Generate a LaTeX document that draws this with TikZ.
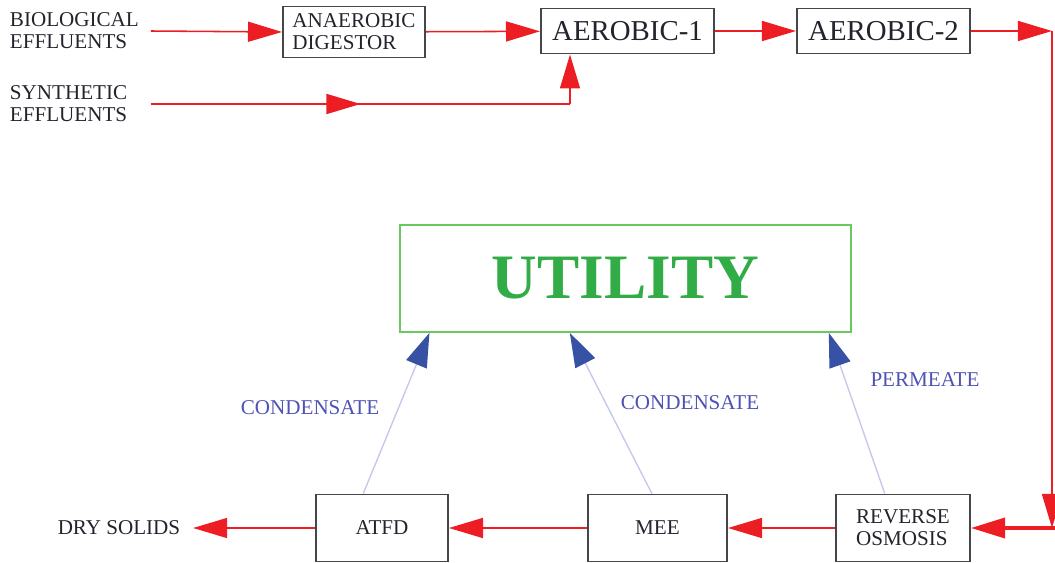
\documentclass[tikz,border=0pt]{standalone}
\usepackage{fontspec}
\setmainfont{Liberation Serif}
\usetikzlibrary{arrows.meta,calc}
\definecolor{flowred}{RGB}{236,30,36}
\definecolor{boxgray}{RGB}{70,70,70}
\definecolor{inkgray}{RGB}{35,35,45}
\definecolor{utgreen}{RGB}{50,172,70}
\definecolor{utborder}{RGB}{105,200,95}
\definecolor{bhead}{RGB}{55,82,165}
\definecolor{bline}{RGB}{200,200,236}
\definecolor{blabel}{RGB}{78,82,178}
\begin{document}
\begin{tikzpicture}[x=0.025cm, y=0.025cm,
  txt/.style={text=inkgray, font=\fontsize{15}{15.6}\selectfont, align=left},
  box/.style={txt, draw=boxgray, line width=1.4pt, fill=white, inner sep=2pt},
  big/.style={font=\fontsize{20.5}{22}\selectfont},
  redline/.style={draw=flowred, line width=1.1pt},
  flow/.style={redline, -{Triangle[length=0.85cm,width=0.5cm]}},
  cond/.style={draw=bline, line width=1pt, -{Triangle[length=0.85cm,width=0.55cm,color=bhead]}},
  lbl/.style={text=blabel, font=\fontsize{15}{17}\selectfont}]
  \useasboundingbox (0,0) rectangle (1055,562);

  % feed and biological stages
  \node[txt, anchor=west, text width=3.4cm] (bio) at (5,531) {BIOLOGICAL\\EFFLUENTS};
  \node[txt, anchor=west, text width=3.4cm] (synth) at (5,458) {SYNTHETIC\\EFFLUENTS};
  \node[box, minimum width=3.55cm, minimum height=1.275cm] (anaer) at (354,530) {ANAEROBIC\\DIGESTOR};
  \node[box, big, minimum width=4.325cm, minimum height=1.125cm] (aer1) at (627.5,531) {AEROBIC-1};
  \node[box, big, minimum width=4.325cm, minimum height=1.125cm] (aer2) at (883.5,531) {AEROBIC-2};

  % utility
  \node[draw=utborder, line width=1.2pt, minimum width=11.275cm, minimum height=2.675cm,
        text=utgreen, font=\fontsize{45}{50}\selectfont\bfseries] (util) at (625.5,283.5) {UTILITY};

  % recovery stages
  \node[box, minimum width=3.3cm, minimum height=1.675cm] (atfd) at (382,34) {ATFD};
  \node[box, minimum width=3.475cm, minimum height=1.675cm] (mee) at (657.5,34) {MEE};
  \node[box, minimum width=3.35cm, minimum height=1.675cm] (ro) at (903,34) {REVERSE\\OSMOSIS};
  \node[txt, inner xsep=9pt] (dry) at (119,34) {DRY SOLIDS};

  \coordinate (jn) at (570,458);
  \coordinate (ne) at (1052,531);
  \coordinate (se) at (1052,34);
  \coordinate (edge) at (1055,34);

  % red flow
  \draw[flow] (bio.east) -- (anaer.west);
  \draw[flow] (anaer) -- (aer1);
  \draw[flow] (aer1) -- (aer2);
  \draw[redline] (synth.east) -- (jn);
  \draw[flow] (synth.east) -- ($(synth.east)!0.5!(jn)$);
  \draw[flow] (jn) -- (jn |- aer1.south);
  \draw[flow] (aer2) -- (ne);
  \draw[flow] (ne) -- (se);
  \draw[flow, line width=2.6pt] (edge) -- (ro);
  \draw[flow] (ro) -- (mee);
  \draw[flow] (mee) -- (atfd);
  \draw[flow] (atfd) -- (dry);

  % water back to utility
  \draw[cond] ($(atfd.north west)!0.36!(atfd.north east)$) -- ($(util.south west)!0.067!(util.south east)$);
  \draw[cond] ($(mee.north west)!0.46!(mee.north east)$) -- ($(util.south west)!0.377!(util.south east)$);
  \draw[cond] ($(ro.north west)!0.366!(ro.north east)$) -- ($(util.south west)!0.949!(util.south east)$);
  \node[lbl] (c1) at (310,154) {CONDENSATE};
  \node[lbl] (c2) at (690,159) {CONDENSATE};
  \node[lbl] (perm) at (925,182) {PERMEATE};
\end{tikzpicture}
\end{document}
